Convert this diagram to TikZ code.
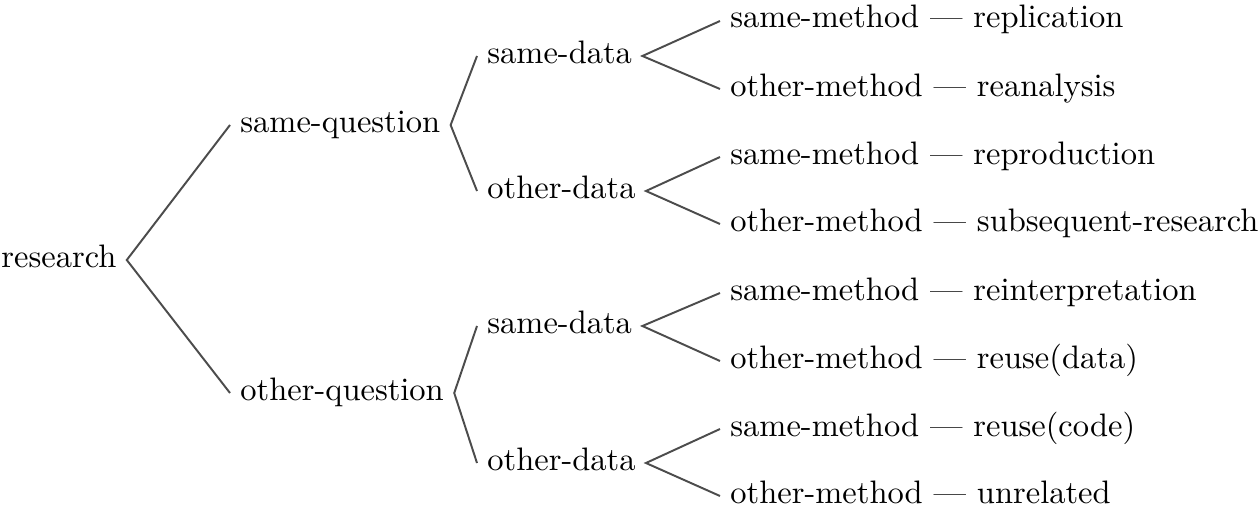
\documentclass[tikz,border=0pt]{standalone}
\usepackage{tikz}
\tikzstyle{term} = [inner sep=3pt, text height=1ex, text depth=0pt, anchor=west]
\tikzstyle{branch} = [draw=black!70, line width=0.6pt]

\begin{document}
\begin{tikzpicture}[x=0.3077pt, y=-0.3077pt]
                \useasboundingbox (0,0) rectangle (1259,509);
                % levels of the tree
                \node [term] (research) at (-9,260) {research};
                \node [term] (sq) at (230,125) {same-question};
                \node [term] (oq) at (230,393) {other-question};
                \node [term] (sqsd) at (477,56) {same-data};
                \node [term] (sqod) at (477,191) {other-data};
                \node [term] (oqsd) at (477,326) {same-data};
                \node [term] (oqod) at (477,463) {other-data};
                \node [term] (l1) at (720,21) {same-method --- replication};
                \node [term] (l2) at (720,89) {other-method --- reanalysis};
                \node [term] (l3) at (720,157) {same-method --- reproduction};
                \node [term] (l4) at (720,224) {other-method --- subsequent-research};
                \node [term] (l5) at (720,293) {same-method --- reinterpretation};
                \node [term] (l6) at (720,361) {other-method --- reuse(data)};
                \node [term] (l7) at (720,429) {same-method --- reuse(code)};
                \node [term] (l8) at (720,496) {other-method --- unrelated};
                % branches
                \draw [branch] (sq.west) -- (research.east) -- (oq.west);
                \draw [branch] (sqsd.west) -- (sq.east) -- (sqod.west);
                \draw [branch] (oqsd.west) -- (oq.east) -- (oqod.west);
                \draw [branch] (l1.west) -- (sqsd.east) -- (l2.west);
                \draw [branch] (l3.west) -- (sqod.east) -- (l4.west);
                \draw [branch] (l5.west) -- (oqsd.east) -- (l6.west);
                \draw [branch] (l7.west) -- (oqod.east) -- (l8.west);
\end{tikzpicture}
\end{document}
